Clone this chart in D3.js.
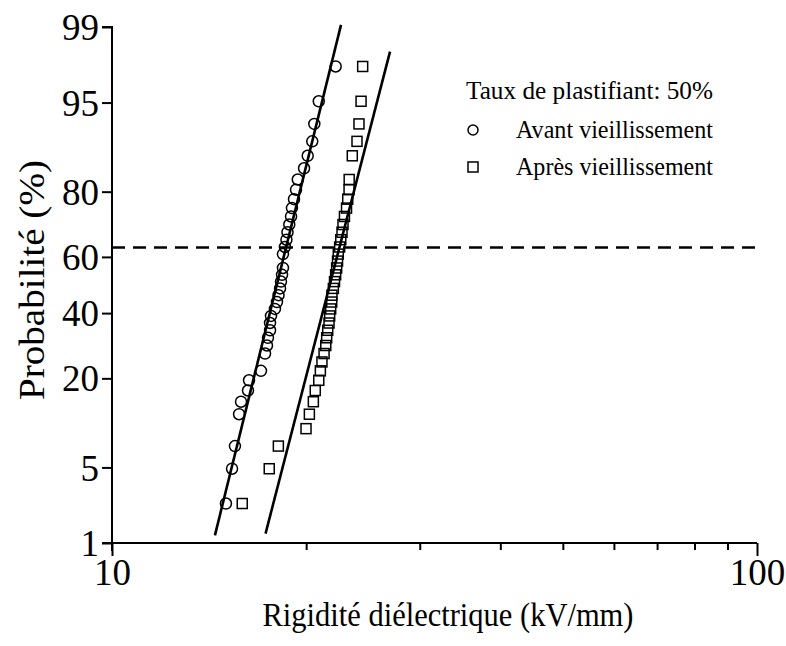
<!DOCTYPE html>
<html><head><meta charset="utf-8">
<script src="https://cdn.jsdelivr.net/npm/d3@7"></script>
<style>body{margin:0;background:#fff}svg{display:block}</style>
</head><body>
<svg id="c" width="786" height="646"></svg>
<script>
// ---- data ----
const avantKV = [15.02,15.35,15.51,15.74,15.85,16.25,16.31,17.02,17.27,17.39,17.45,17.58,17.58,17.64,17.89,18.02,18.12,18.22,18.28,18.35,18.41,18.41,18.54,18.64,18.71,18.83,18.95,19.01,19.15,19.29,19.41,19.85,20.11,20.44,20.59,20.92,22.22];
const avantProb = [2.44,4.88,7.32,12.20,14.63,17.07,19.51,21.95,26.83,29.27,31.71,34.15,36.59,39.02,41.46,43.90,46.34,48.78,51.22,53.66,56.10,60.98,63.41,65.85,68.29,70.73,73.17,75.61,78.05,80.49,82.93,85.37,87.80,90.24,92.68,95.12,97.56];
const apresKV = [15.92,17.53,18.11,19.99,20.23,20.52,20.66,20.92,21.04,21.16,21.32,21.45,21.52,21.60,21.70,21.75,21.83,21.91,21.93,22.04,22.13,22.22,22.30,22.37,22.43,22.54,22.63,22.73,22.81,22.93,23.10,23.20,23.31,23.32,23.58,23.98,24.15,24.33,24.47];
const apresProb = [2.44,4.88,7.32,9.76,12.20,14.63,17.07,19.51,21.95,24.39,26.83,29.27,31.71,34.15,36.59,39.02,41.46,43.90,46.34,48.78,51.22,53.66,56.10,58.54,60.98,63.41,65.85,68.29,70.73,73.17,75.61,78.05,80.49,82.93,87.80,90.24,92.68,95.12,97.56];
const fitAvantKV = [14.44, 22.65];
const fitAvantProb = [1.2, 99.05];
const fitApresKV = [17.30, 26.98];
const fitApresProb = [1.25, 98.23];
const refProb = 63.2;
const yTickValues = [1,5,20,40,60,80,95,99];
const xTickValues = [10,20,30,40,50,60,70,80,90,100];
const xTickLabels = [10,100];
const legendTitle = "Taux de plastifiant: 50%";
const seriesNames = ["Avant vieillissement","Après vieillissement"];

// inverse normal CDF (Acklam)
function probit(p){
  const a=[-3.969683028665376e+01,2.209460984245205e+02,-2.759285104469687e+02,1.383577518672690e+02,-3.066479806614716e+01,2.506628277459239e+00];
  const b=[-5.447609879822406e+01,1.615858368580409e+02,-1.556989798598866e+02,6.680131188771972e+01,-1.328068155288572e+01];
  const c=[-7.784894002430293e-03,-3.223964580411365e-01,-2.400758277161838e+00,-2.549732539343734e+00,4.374664141464968e+00,2.938163982698783e+00];
  const d=[7.784695709041462e-03,3.224671290700398e-01,2.445134137142996e+00,3.754408661907416e+00];
  const pl=0.02425, ph=1-pl; let q,r;
  if(p<pl){q=Math.sqrt(-2*Math.log(p));return (((((c[0]*q+c[1])*q+c[2])*q+c[3])*q+c[4])*q+c[5])/((((d[0]*q+d[1])*q+d[2])*q+d[3])*q+1);}
  if(p<=ph){q=p-0.5;r=q*q;return (((((a[0]*r+a[1])*r+a[2])*r+a[3])*r+a[4])*r+a[5])*q/(((((b[0]*r+b[1])*r+b[2])*r+b[3])*r+b[4])*r+1);}
  q=Math.sqrt(-2*Math.log(1-p));return -(((((c[0]*q+c[1])*q+c[2])*q+c[3])*q+c[4])*q+c[5])/((((d[0]*q+d[1])*q+d[2])*q+d[3])*q+1);
}

const L=112, R=757, T=27, B=543;
const svg = d3.select("#c");
const font = "'Liberation Serif','Times New Roman',serif";
const x = d3.scaleLog().domain([10,100]).range([L,R]);
const z = d3.scaleLinear().domain([probit(0.01),probit(0.99)]).range([B,T]);
const y = p => z(probit(p/100));

// y axis
const yAxis = d3.axisLeft(z)
  .tickValues(yTickValues.map(p=>probit(p/100)))
  .tickFormat((d,i)=>yTickValues[i])
  .tickSize(10).tickPadding(3);
const gy = svg.append("g").attr("transform",`translate(${L},0)`).call(yAxis);
gy.select(".domain").attr("d",`M${-10},${T}H0V${B+8}`).attr("stroke-width",2);
gy.selectAll(".tick line").attr("stroke-width",2);
gy.selectAll(".tick text").attr("font-family",font).attr("font-size",37).attr("fill","#000").attr("dy","0.34em");

// x axis
const xAxis = d3.axisBottom(x).tickValues(xTickValues)
  .tickFormat(d=>xTickLabels.includes(d)?d:"").tickSize(7).tickPadding(8);
const gx = svg.append("g").attr("transform",`translate(0,${B})`).call(xAxis);
gx.select(".domain").attr("d",`M${L-10},0H${R}`).attr("stroke-width",2);
gx.selectAll(".tick line").attr("stroke-width",2).attr("y2",d=>xTickLabels.includes(d)?13:7);
gx.selectAll(".tick text").attr("font-family",font).attr("font-size",37).attr("fill","#000")
  .attr("y",16).attr("dy","0.71em");

// titles
svg.append("text").attr("x",448).attr("y",626).attr("text-anchor","middle")
  .attr("font-family",font).attr("font-size",34).attr("textLength",371).attr("lengthAdjust","spacingAndGlyphs")
  .text("Rigidité diélectrique (kV/mm)");
svg.append("text").attr("transform","translate(44,280) rotate(-90)").attr("text-anchor","middle")
  .attr("font-family",font).attr("font-size",36).attr("textLength",240).attr("lengthAdjust","spacingAndGlyphs")
  .text("Probabilité (%)");

// reference dashed line
svg.append("line").attr("x1",L).attr("x2",R).attr("y1",y(refProb)).attr("y2",y(refProb))
  .attr("stroke","#000").attr("stroke-width",2.5).attr("stroke-dasharray","13,8");

// fit lines
const line = d3.line().x(d=>x(d[0])).y(d=>y(d[1]));
svg.append("path").attr("d",line(d3.zip(fitAvantKV,fitAvantProb))).attr("stroke","#000").attr("stroke-width",2.6).attr("fill","none");
svg.append("path").attr("d",line(d3.zip(fitApresKV,fitApresProb))).attr("stroke","#000").attr("stroke-width",2.6).attr("fill","none");

// points
svg.append("g").selectAll("circle").data(d3.zip(avantKV,avantProb)).join("circle")
  .attr("cx",d=>x(d[0])).attr("cy",d=>y(d[1])).attr("r",5.5)
  .attr("fill","none").attr("stroke","#000").attr("stroke-width",1.5);
svg.append("g").selectAll("rect").data(d3.zip(apresKV,apresProb)).join("rect")
  .attr("x",d=>x(d[0])-5).attr("y",d=>y(d[1])-5).attr("width",10).attr("height",10)
  .attr("fill","none").attr("stroke","#000").attr("stroke-width",1.5);

// legend
const lg = svg.append("g").attr("font-family",font).attr("font-size",26);
lg.append("text").attr("x",466).attr("y",99).attr("textLength",247).attr("lengthAdjust","spacingAndGlyphs").text(legendTitle);
lg.append("circle").attr("cx",473).attr("cy",130).attr("r",5).attr("fill","none").attr("stroke","#000").attr("stroke-width",1.5);
lg.append("text").attr("x",516).attr("y",138).attr("textLength",197).attr("lengthAdjust","spacingAndGlyphs").text(seriesNames[0]);
lg.append("rect").attr("x",468).attr("y",162).attr("width",10).attr("height",10).attr("fill","none").attr("stroke","#000").attr("stroke-width",1.5);
lg.append("text").attr("x",516).attr("y",175).attr("textLength",197).attr("lengthAdjust","spacingAndGlyphs").text(seriesNames[1]);
</script>
</body></html>
